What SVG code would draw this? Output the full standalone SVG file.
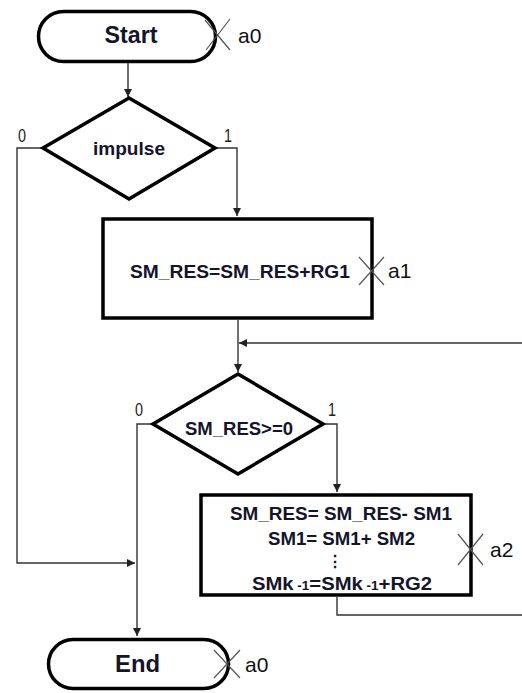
<svg xmlns="http://www.w3.org/2000/svg" width="522" height="693" viewBox="0 0 522 693">
<defs>
<marker id="arr" viewBox="0 0 10 10" refX="10" refY="5" markerWidth="9" markerHeight="8" markerUnits="userSpaceOnUse" orient="auto">
<path d="M0,0 L10,5 L0,10 Z" fill="#222"/>
</marker>
<style>
.shape{fill:#fff;stroke:#000;stroke-width:3.5;stroke-linejoin:miter}
.conn{fill:none;stroke:#333;stroke-width:1.4}
.cross{stroke:#555;stroke-width:1.2;fill:none}
.t{font-family:"Liberation Sans",Arial,sans-serif;font-weight:bold;fill:#14142a;text-anchor:middle}
.lbl{font-family:"Liberation Sans",Arial,sans-serif;fill:#111}
.bit{font-family:"Liberation Sans",Arial,sans-serif;fill:#222;font-size:19px}
</style>
</defs>
<rect width="522" height="693" fill="#fff"/>
<g id="connectors">
<path class="conn" d="M128,62 V97" marker-end="url(#arr)"/>
<path class="conn" d="M215,148 H237 V216" marker-end="url(#arr)"/>
<path class="conn" d="M43,148 H17 V563 H135" marker-end="url(#arr)"/>
<path class="conn" d="M238,320 V372" marker-end="url(#arr)"/>
<path class="conn" d="M530,343 H239" marker-end="url(#arr)"/>
<path class="conn" d="M323,424 H337 V492" marker-end="url(#arr)"/>
<path class="conn" d="M153,424 H137 V636" marker-end="url(#arr)"/>
<path class="conn" d="M337,597 V615 H530 V343"/>
</g>
<g id="start">
<rect class="shape" x="38.5" y="11.5" width="177" height="50" rx="25"/>
<text class="t" x="131" y="43" font-size="24" textLength="53" lengthAdjust="spacingAndGlyphs">Start</text>
<path class="cross" d="M205,20 L230,50 M206,50 L230,19"/>
<text class="lbl" x="238" y="43" font-size="21">a0</text>
</g>
<g id="impulse">
<polygon class="shape" points="129,98 215,148 129,199 43,148"/>
<text class="t" x="129" y="155" font-size="18" textLength="72" lengthAdjust="spacingAndGlyphs">impulse</text>
<text class="bit" x="18" y="142" textLength="8" lengthAdjust="spacingAndGlyphs">0</text>
<text class="bit" x="224" y="142" textLength="8" lengthAdjust="spacingAndGlyphs">1</text>
</g>
<g id="add">
<rect class="shape" x="103" y="219" width="269" height="99"/>
<text class="t" x="240" y="278" font-size="18" textLength="220" lengthAdjust="spacingAndGlyphs">SM_RES=SM_RES+RG1</text>
<path class="cross" d="M359,257 L384,285 M359,285 L384,257"/>
<text class="lbl" x="388" y="278" font-size="21">a1</text>
</g>
<g id="check">
<polygon class="shape" points="238,374 323,424 238,474 153,424"/>
<text class="t" x="239" y="435" font-size="18" textLength="108" lengthAdjust="spacingAndGlyphs">SM_RES&gt;=0</text>
<text class="bit" x="135" y="416" textLength="8" lengthAdjust="spacingAndGlyphs">0</text>
<text class="bit" x="328" y="416" textLength="8" lengthAdjust="spacingAndGlyphs">1</text>
</g>
<g id="update">
<rect class="shape" x="201" y="495" width="270" height="100"/>
<text class="t" x="341" y="520" font-size="18" textLength="222" lengthAdjust="spacingAndGlyphs">SM_RES= SM_RES- SM1</text>
<text class="t" x="341.5" y="545" font-size="18" textLength="147" lengthAdjust="spacingAndGlyphs">SM1= SM1+ SM2</text>
<text class="t" x="335" y="567" font-size="16" font-weight="normal" fill="#5a4a20">⋮</text>
<text class="t" x="342" y="590" font-size="18" textLength="180" lengthAdjust="spacingAndGlyphs">SMk<tspan font-size="12"> -1</tspan>=SMk<tspan font-size="12"> -1</tspan>+RG2</text>
<path class="cross" d="M458,534 L483,565 M458,565 L483,534"/>
<text class="lbl" x="490" y="557" font-size="21">a2</text>
</g>
<g id="end">
<rect class="shape" x="48.5" y="639.5" width="180" height="49" rx="24.5"/>
<text class="t" x="137.5" y="672" font-size="24" textLength="45" lengthAdjust="spacingAndGlyphs">End</text>
<path class="cross" d="M214,650 L240,678 M214,678 L240,650"/>
<text class="lbl" x="245" y="672" font-size="21">a0</text>
</g>
</svg>
